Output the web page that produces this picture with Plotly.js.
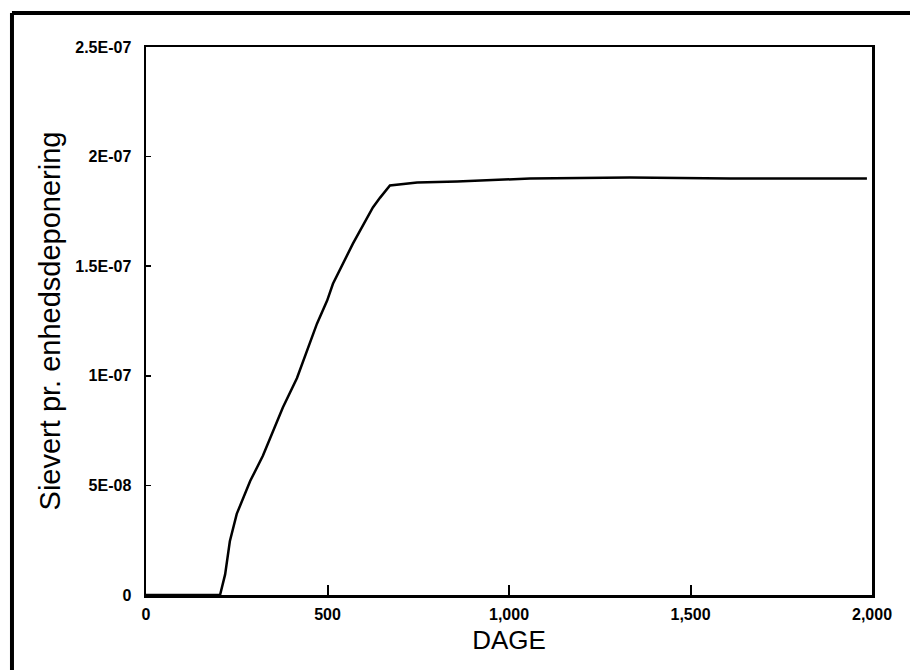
<!DOCTYPE html>
<html>
<head>
<meta charset="utf-8">
<script src="https://cdn.plot.ly/plotly-3.0.1.min.js"></script>
<style>
  html, body { margin: 0; padding: 0; background: #ffffff; }
  #chart { width: 910px; height: 670px; }
</style>
</head>
<body>
<div id="chart"></div>
<script>
// Days since deposition
const days = [0, 204, 218, 231, 250, 287, 322, 350, 377, 416, 444, 471, 499, 515, 570, 625, 645, 672, 747, 857, 1058, 1333, 1609, 1986];
// Sievert per unit deposition
const dose = [0, 0, 9.4e-9, 2.45e-8, 3.7e-8, 5.2e-8, 6.35e-8, 7.5e-8, 8.55e-8, 9.9e-8, 1.115e-7, 1.238e-7, 1.343e-7, 1.42e-7, 1.603e-7, 1.768e-7, 1.813e-7, 1.868e-7, 1.882e-7, 1.886e-7, 1.9e-7, 1.905e-7, 1.9e-7, 1.9e-7];

const xTickVals = [0, 500, 1000, 1500, 2000];
const xTickText = ["0", "500", "1,000", "1,500", "2,000"];
const yTickVals = [0, 5e-8, 1e-7, 1.5e-7, 2e-7, 2.5e-7];
const yTickText = ["0", "5E-08", "1E-07", "1.5E-07", "2E-07", "2.5E-07"];

const trace = {
  x: days,
  y: dose,
  type: "scatter",
  mode: "lines",
  line: { color: "#000000", width: 2.5 },
  hoverinfo: "skip"
};

const tickFont = { family: "Liberation Sans, Arial, sans-serif", size: 16, color: "#000000", weight: "bold" };

const layout = {
  width: 910,
  height: 670,
  margin: { l: 146, r: 38, t: 47, b: 75 },
  paper_bgcolor: "#ffffff",
  plot_bgcolor: "#ffffff",
  showlegend: false,
  xaxis: {
    range: [0, 2000],
    tickvals: xTickVals,
    ticktext: xTickText,
    ticks: "inside",
    ticklen: 10,
    tickwidth: 2,
    tickcolor: "#000000",
    showline: true,
    linecolor: "#000000",
    linewidth: 2.5,
    mirror: true,
    showgrid: false,
    zeroline: false,
    tickfont: tickFont,
    ticklabelstandoff: 3,
    title: { text: "DAGE", font: { family: "Liberation Sans, Arial, sans-serif", size: 26, color: "#000000" }, standoff: 9 }
  },
  yaxis: {
    range: [0, 2.5e-7],
    tickvals: yTickVals,
    ticktext: yTickText,
    ticks: "inside",
    ticklen: 5,
    tickwidth: 1.5,
    tickcolor: "#000000",
    showline: true,
    linecolor: "#000000",
    linewidth: 2.5,
    mirror: true,
    showgrid: false,
    zeroline: false,
    tickfont: tickFont,
    ticklabelstandoff: 9,
    title: { text: "Sievert pr. enhedsdeponering", font: { family: "Liberation Sans, Arial, sans-serif", size: 29, color: "#000000" }, standoff: 6 }
  },
  shapes: [
    { type: "line", xref: "paper", yref: "paper", x0: -0.1846, x1: 1.06, y0: 1.062, y1: 1.062, line: { color: "#000000", width: 4 } },
    { type: "line", xref: "paper", yref: "paper", x0: -0.1846, x1: -0.1846, y0: 1.062, y1: -0.15, line: { color: "#000000", width: 4 } }
  ]
};

Plotly.newPlot("chart", [trace], layout, { displayModeBar: false, staticPlot: true });
</script>
</body>
</html>
